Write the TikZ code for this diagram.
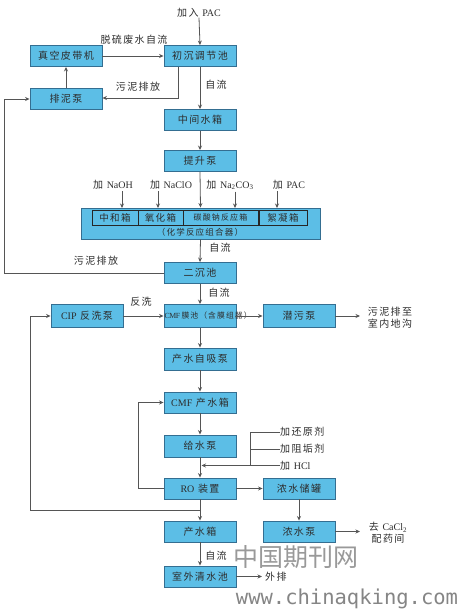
\documentclass[tikz,border=0pt]{standalone}
\usepackage{fontspec}
\setmainfont{Liberation Serif}
\newfontfamily\cjk[LetterSpace=14]{Noto Sans CJK SC}
\newfontfamily\wmcjk{Noto Sans CJK SC}
\newfontfamily\wmmono{DejaVu Sans Mono}
\usetikzlibrary{arrows.meta}
\definecolor{boxfill}{RGB}{92,190,230}
\definecolor{boxline}{RGB}{52,110,145}
\definecolor{linec}{RGB}{85,85,85}
\definecolor{txt}{RGB}{45,45,45}
\begin{document}
\begin{tikzpicture}[x=1pt,y={(0pt,-1pt)},
  box/.style={draw=boxline, fill=boxfill, line width=0.9pt, minimum width=72pt, minimum height=21pt, inner sep=0pt, text=txt, font=\fontsize{10}{11}\selectfont\cjk},
  inbox/.style={draw=black!85, fill=boxfill, line width=1pt, minimum height=15pt, inner sep=0pt, text=txt, font=\fontsize{9.5}{10}\selectfont\cjk},
  lab/.style={inner sep=0pt, text=txt, font=\fontsize{10}{11}\selectfont\cjk},
  arr/.style={draw=linec, line width=0.8pt, -{Stealth[length=4.5pt,width=4pt]}},
  ln/.style={draw=linec, line width=0.8pt}]
\useasboundingbox (0,0) rectangle (463,615);
\fill[white] (0,0) rectangle (463,615);

% boxes
\node[box] (zk) at (66,56) {真空皮带机};
\node[box] (cc) at (200,56) {初沉调节池};
\node[box] (pn) at (66,99) {排泥泵};
\node[box] (zj) at (200,120) {中间水箱};
\node[box] (ts) at (200,161) {提升泵};
\node[box, minimum width=239pt, minimum height=31pt] (big) at (200.5,223.5) {};
\node[inbox, minimum width=46pt] (b1) at (115,217.5) {中和箱};
\node[inbox, minimum width=45pt] (b2) at (160.5,217.5) {氧化箱};
\node[inbox, minimum width=75pt, font=\fontsize{8}{9}\selectfont\cjk] (b3) at (220.5,217.5) {碳酸钠反应箱};
\node[inbox, minimum width=48pt] (b4) at (283,217.5) {絮凝箱};
\node[lab, font=\fontsize{8.5}{9}\selectfont\cjk] (hx) at (200,232) {（化学反应组合器）};
\node[box] (ec) at (200,273) {二沉池};
\node[box, minimum height=23pt] (cip) at (87,316) {{\fontspec{Liberation Serif}CIP} 反洗泵};
\node[box, minimum height=23pt] (cmf) at (200,316) {};
\node[lab, anchor=west, font=\fontsize{7.8}{8}\selectfont\cjk] (cmft) at (164.5,316) {{\fontspec[LetterSpace=-6]{Liberation Serif}CMF}\,膜池（含膜组器）};
\node[box, minimum height=23pt] (qw) at (299,316) {潜污泵};
\node[box, minimum height=22pt] (cs) at (200,359) {产水自吸泵};
\node[box] (cmfc) at (200,402.5) {{\fontspec{Liberation Serif}CMF} 产水箱};
\node[box, minimum height=22pt] (gs) at (200,446) {给水泵};
\node[box] (ro) at (200,488.5) {{\fontspec{Liberation Serif}RO} 装置};
\node[box] (ns) at (299,488.5) {浓水储罐};
\node[box] (cx) at (200,531.5) {产水箱};
\node[box] (nb) at (299,531.5) {浓水泵};
\node[box] (sw) at (200,576.5) {室外清水池};

% text nodes
\node[lab] (pac) at (199,13) {加入 {\fontspec{Liberation Serif}PAC}};
\node[lab] (t1) at (113,185) {加 {\fontspec{Liberation Serif}NaOH}};
\node[lab] (t2) at (171,185) {加 {\fontspec{Liberation Serif}NaClO}};
\node[lab] (t3) at (230,185) {加 {\fontspec{Liberation Serif}Na\textsubscript{2}CO\textsubscript{3}}};
\node[lab] (t4) at (289,185) {加 {\fontspec{Liberation Serif}PAC}};
\node[lab, align=left] (out1) at (390,318) {污泥排至\\[1pt]室内地沟};
\node[lab, anchor=west] (r1) at (280,432) {加还原剂};
\node[lab, anchor=west] (r2) at (280,449) {加阻垢剂};
\node[lab, anchor=west] (r3) at (280,465.5) {加 {\fontspec{Liberation Serif}HCl}};
\node[lab, align=center] (out2) at (388,533) {去 {\fontspec{Liberation Serif}CaCl\textsubscript{2}}\\[1pt]配药间};
\node[lab, anchor=west] (out3) at (265,576.5) {外排};

% labels on connectors
\node[lab] (l1) at (134,40) {脱硫废水自流};
\node[lab] (l2) at (216,85) {自流};
\node[lab] (l3) at (138,87) {污泥排放};
\node[lab] (l4) at (220,248) {自流};
\node[lab] (l5) at (96,261) {污泥排放};
\node[lab] (l6) at (219,293) {自流};
\node[lab] (l7) at (141,302) {反洗};
\node[lab] (l8) at (216,556) {自流};

% watermarks
\node[inner sep=0pt, text=black!40, font=\fontsize{25}{26}\selectfont\wmcjk] (wm1) at (296,557) {中国期刊网};
\node[inner sep=0pt, text=black!48, font=\fontsize{20.5}{21}\selectfont\wmmono] (wm2) at (347,599) {www.chinaqking.com};

% connectors
\draw[arr] (pac.south) -- (cc.north);
\draw[arr] (zk.east) -- (cc.west);
\draw[arr] (cc.south) -- (zj.north);
\coordinate (c1) at (178,98);
\draw[arr] (cc.south -| c1) -- (c1) -- (pn.east |- c1);
\draw[arr] (pn.north) -- (zk.south);
\draw[arr] (zj.south) -- (ts.north);
\draw[arr] (ts.south) -- (big.north);
\coordinate (a1) at (122,208);
\coordinate (a2) at (158,208);
\coordinate (a3) at (235,208);
\coordinate (a4) at (277,208);
\draw[arr] (a1 |- t1.south) ++(0,1.5) -- (a1);
\draw[arr] (a2 |- t2.south) ++(0,1.5) -- (a2);
\draw[arr] (a3 |- t3.south) ++(0,1.5) -- (a3);
\draw[arr] (a4 |- t4.south) ++(0,1.5) -- (a4);
\draw[arr] (big.south) -- (ec.north);
\coordinate (c2) at (4,273);
\draw[arr] (ec.west) -- (c2) -- (c2 |- pn.west) -- (pn.west);
\draw[arr] (ec.south) -- (cmf.north);
\draw[arr] (cip.east) -- (cmf.west);
\draw[arr] (cmf.east) -- (qw.west);
\coordinate (c3) at (360,316);
\draw[arr] (qw.east) -- (c3);
\draw[arr] (cmf.south) -- (cs.north);
\draw[arr] (cs.south) -- (cmfc.north);
\draw[arr] (cmfc.south) -- (gs.north);
\draw[arr] (gs.south) -- (ro.north);
\coordinate (v1) at (250,432);
\coordinate (v2) at (250,465.5);
\coordinate (v3) at (201.5,465.5);
\draw[ln] (r1.west) -- (v1);
\draw[ln] (r2.west) -- (r2.west -| v1);
\draw[ln] (v1) -- (v2);
\draw[arr] (r3.west) -- (v3);
\coordinate (c4) at (138,488.5);
\draw[arr] (ro.west) -- (c4) -- (c4 |- cmfc.west) -- (cmfc.west);
\draw[arr] (ro.south) -- (cx.north);
\coordinate (c5) at (30,510);
\draw[arr] (c5 -| ro.south) -- (c5) -- (c5 |- cip.west) -- (cip.west);
\draw[arr] (ro.east) -- (ns.west);
\draw[arr] (ns.south) -- (nb.north);
\coordinate (c6) at (360,531.5);
\draw[arr] (nb.east) -- (c6);
\draw[arr] (cx.south) -- (sw.north);
\coordinate (c7) at (262,576.5);
\draw[arr] (sw.east) -- (c7);
\end{tikzpicture}
\end{document}
